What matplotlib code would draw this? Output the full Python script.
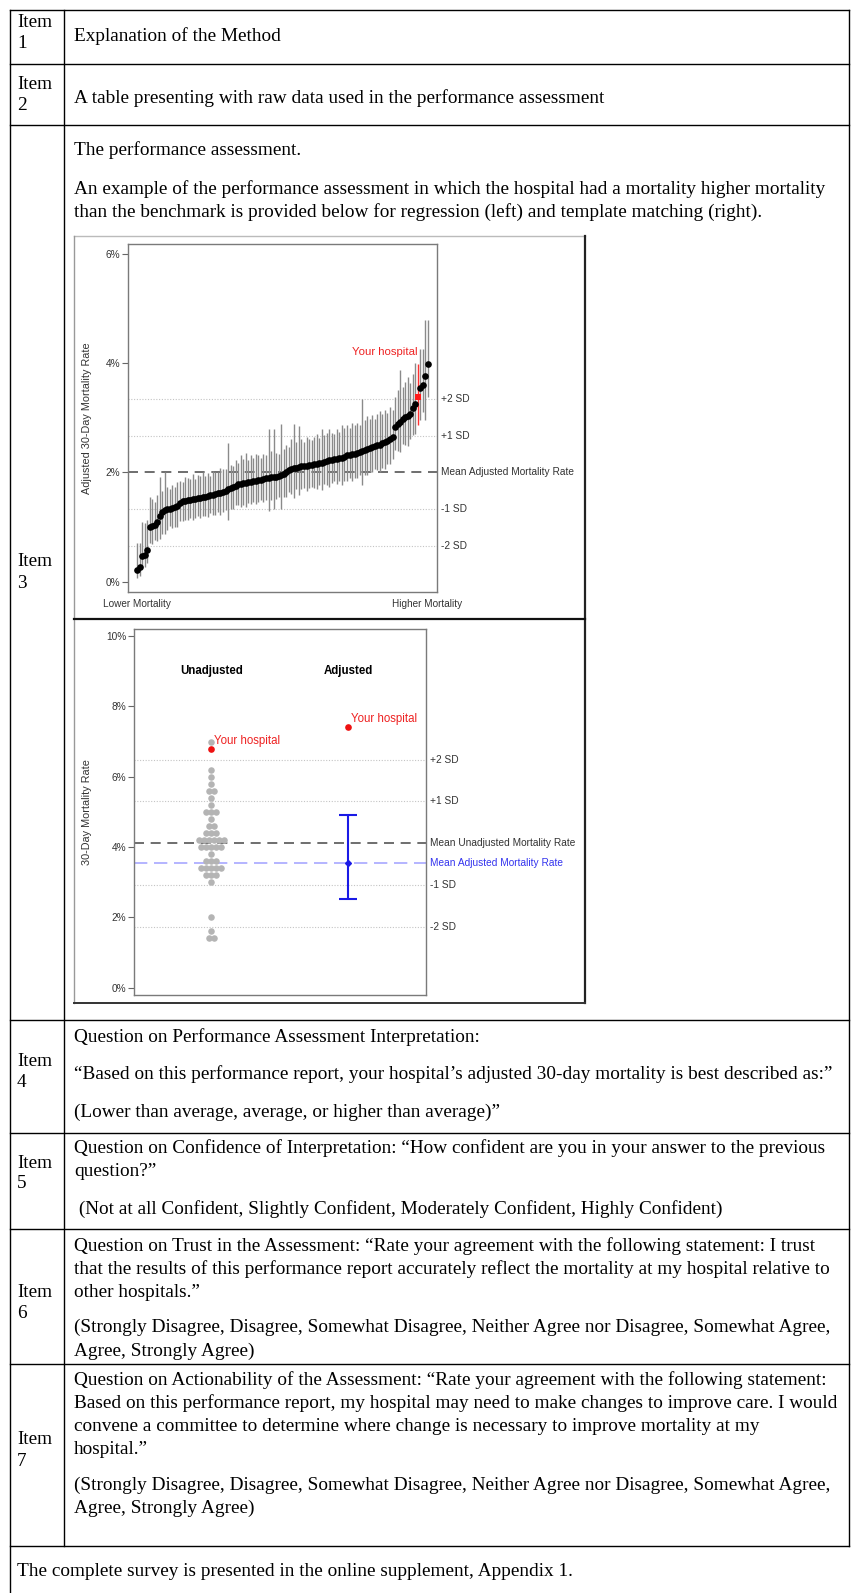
import matplotlib.pyplot as plt
import numpy as np

W, H = 851, 1593

# ---- regression chart (top): hospitals sorted by adjusted 30-day mortality (%)
adj_rate = [0.22, 0.27, 0.48, 0.50, 0.59,
            1.01, 1.02, 1.04, 1.10, 1.20,
            1.28, 1.32, 1.33, 1.34, 1.35,
            1.36, 1.38, 1.45, 1.47, 1.48,
            1.49, 1.50, 1.51, 1.52, 1.53,
            1.54, 1.55, 1.56, 1.57, 1.58,
            1.59, 1.60, 1.62, 1.63, 1.65,
            1.67, 1.69, 1.71, 1.74, 1.76,
            1.78, 1.79, 1.80, 1.81, 1.82,
            1.83, 1.84, 1.84, 1.86, 1.87,
            1.88, 1.89, 1.90, 1.91, 1.91,
            1.92, 1.94, 1.96, 1.97, 2.00,
            2.04, 2.06, 2.08, 2.09, 2.10,
            2.11, 2.11, 2.12, 2.13, 2.14,
            2.15, 2.16, 2.17, 2.18, 2.20,
            2.21, 2.22, 2.23, 2.24, 2.25,
            2.26, 2.27, 2.29, 2.31, 2.32,
            2.33, 2.34, 2.35, 2.37, 2.39,
            2.41, 2.43, 2.45, 2.47, 2.48,
            2.50, 2.51, 2.53, 2.55, 2.57,
            2.61, 2.65, 2.83, 2.88, 2.93,
            2.97, 3.01, 3.04, 3.06, 3.17,
            3.25, 3.38, 3.54, 3.60, 3.76, 3.99]
err_up = [0.50, 0.45, 0.62, 0.58, 0.55,
          0.55, 0.50, 0.42, 0.48, 0.72,
          0.38, 0.68, 0.40, 0.35, 0.42,
          0.38, 0.45, 0.40, 0.36, 0.44,
          0.40, 0.38, 0.46, 0.36, 0.42,
          0.40, 0.45, 0.38, 0.42, 0.36,
          0.44, 0.40, 0.38, 0.45, 0.42,
          0.40, 0.85, 0.42, 0.38, 0.46,
          0.40, 0.52, 0.44, 0.55, 0.40,
          0.48, 0.42, 0.50, 0.45, 0.40,
          0.46, 0.42, 0.90, 0.48, 0.88,
          0.44, 0.40, 0.92, 0.45, 0.50,
          0.42, 0.55, 0.80, 0.46, 0.75,
          0.50, 0.44, 0.52, 0.48, 0.46,
          0.50, 0.55, 0.46, 0.62, 0.48,
          0.52, 0.58, 0.50, 0.46, 0.55,
          0.48, 0.60, 0.52, 0.55, 0.50,
          0.58, 0.52, 0.56, 0.50, 0.95,
          0.55, 0.60, 0.52, 0.58, 0.50,
          0.56, 0.62, 0.54, 0.60, 0.52,
          0.58, 0.50, 0.55, 0.62, 0.95,
          0.60, 0.65, 0.70, 0.58, 0.62,
          0.75, 0.60, 0.72, 0.65, 1.02, 0.80]
err_dn = [0.15, 0.17, 0.20, 0.22, 0.25,
          0.30, 0.32, 0.28, 0.35, 0.42,
          0.40, 0.45, 0.38, 0.32, 0.36,
          0.35, 0.38, 0.33, 0.36, 0.34,
          0.36, 0.34, 0.38, 0.35, 0.33,
          0.37, 0.34, 0.36, 0.38, 0.33,
          0.36, 0.38, 0.35, 0.40, 0.37,
          0.36, 0.55, 0.38, 0.40, 0.36,
          0.38, 0.42, 0.40, 0.45, 0.38,
          0.40, 0.38, 0.42, 0.40, 0.37,
          0.42, 0.40, 0.60, 0.42, 0.58,
          0.40, 0.38, 0.62, 0.42, 0.45,
          0.40, 0.45, 0.55, 0.40, 0.52,
          0.42, 0.40, 0.45, 0.42, 0.40,
          0.44, 0.46, 0.40, 0.50, 0.42,
          0.44, 0.48, 0.42, 0.40, 0.46,
          0.42, 0.50, 0.44, 0.46, 0.42,
          0.48, 0.44, 0.46, 0.42, 0.62,
          0.45, 0.48, 0.44, 0.46, 0.42,
          0.46, 0.50, 0.44, 0.48, 0.42,
          0.46, 0.40, 0.42, 0.48, 0.55,
          0.45, 0.50, 0.55, 0.45, 0.48,
          0.55, 0.51, 0.58, 0.50, 0.80, 0.62]
your_idx = 111
adj_mean = 2.0
adj_sd = [3.35, 2.67, 1.33, 0.66]
sd_labels = ['+2 SD', '+1 SD', '-1 SD', '-2 SD']

# ---- template matching chart (bottom)
unadj_levels = [7.0, 6.2, 6.0, 5.8, 5.6, 5.4, 5.2, 5.0, 4.8, 4.6, 4.4,
                4.2, 4.0, 3.8, 3.6, 3.4, 3.2, 3.0, 2.0, 1.6, 1.4]
unadj_counts = [1, 1, 1, 1, 2, 1, 1, 3, 1, 2, 3,
                6, 5, 1, 3, 5, 3, 1, 1, 1, 2]
your_unadj = 6.8
your_adj = 7.4
adj_ci = [2.52, 3.55, 4.92]   # low, mean, high
mean_unadj = 4.1
mean_adj = 3.55
unadj_sd = [6.48, 5.30, 2.91, 1.72]

# ---- table text
rows = [
    (['Item', '1'], [20, 41], ['Explanation of the Method'], [34]),
    (['Item', '2'], [82, 103], ['A table presenting with raw data used in the performance assessment'], [96]),
    (['Item', '3'], [559, 581], ['The performance assessment.',
                                'An example of the performance assessment in which the hospital had a mortality higher mortality',
                                'than the benchmark is provided below for regression (left) and template matching (right).'],
     [148, 187, 210]),
    (['Item', '4'], [1059, 1080], ['Question on Performance Assessment Interpretation:',
                                  '\u201cBased on this performance report, your hospital\u2019s adjusted 30-day mortality is best described as:\u201d',
                                  '(Lower than average, average, or higher than average)\u201d'],
     [1035, 1072, 1110]),
    (['Item', '5'], [1161, 1181], ['Question on Confidence of Interpretation: \u201cHow confident are you in your answer to the previous',
                                  'question?\u201d',
                                  ' (Not at all Confident, Slightly Confident, Moderately Confident, Highly Confident)'],
     [1146, 1169, 1207]),
    (['Item', '6'], [1290, 1311], ['Question on Trust in the Assessment: \u201cRate your agreement with the following statement: I trust',
                                  'that the results of this performance report accurately reflect the mortality at my hospital relative to',
                                  'other hospitals.\u201d',
                                  '(Strongly Disagree, Disagree, Somewhat Disagree, Neither Agree nor Disagree, Somewhat Agree,',
                                  'Agree, Strongly Agree)'],
     [1244, 1267, 1290, 1325, 1349]),
    (['Item', '7'], [1437, 1459], ['Question on Actionability of the Assessment: \u201cRate your agreement with the following statement:',
                                  'Based on this performance report, my hospital may need to make changes to improve care. I would',
                                  'convene a committee to determine where change is necessary to improve mortality at my',
                                  'hospital.\u201d',
                                  '(Strongly Disagree, Disagree, Somewhat Disagree, Neither Agree nor Disagree, Somewhat Agree,',
                                  'Agree, Strongly Agree)'],
     [1378, 1401, 1424, 1447, 1483, 1506]),
]
footer = 'The complete survey is presented in the online supplement, Appendix 1.'
row_lines = [10, 64, 125, 1020, 1133, 1229, 1364, 1546]

serif = 'Liberation Serif'
sans = 'Liberation Sans'
TFS = 13.9   # table font size
CFS = 7.3    # chart small text
DY = 2.5     # small downward nudge of table text

fig = plt.figure(figsize=(W / 100, H / 100), dpi=100)
bg = fig.add_axes([0, 0, 1, 1])
bg.set_xlim(0, W)
bg.set_ylim(H, 0)
bg.axis('off')

# table grid
for y in row_lines:
    bg.plot([10, 849], [y, y], color='black', lw=1.0)
bg.plot([10, 10], [10, H], color='black', lw=1.0)
bg.plot([849, 849], [10, 1546], color='black', lw=1.0)
bg.plot([64, 64], [10, 1546], color='black', lw=1.0)

for left, ly, right, ry in rows:
    for t, y in zip(left, ly):
        bg.text(17, y + DY, t, family=serif, fontsize=TFS, va='center', ha='left')
    for t, y in zip(right, ry):
        bg.text(74, y + DY, t, family=serif, fontsize=TFS, va='center', ha='left')
bg.text(17, 1569 + DY, footer, family=serif, fontsize=TFS, va='center', ha='left')

# frames of the two pasted charts
bg.plot([74, 585], [235.5, 235.5], color='#bbbbbb', lw=1.0)
bg.plot([74, 74], [235.5, 1003], color='#999999', lw=1.0)
bg.plot([585, 585], [235.5, 1003], color='#222222', lw=1.6)
bg.plot([74, 585], [619, 619], color='#111111', lw=1.6)
bg.plot([74, 585], [1003, 1003], color='#333333', lw=1.4)


def px_axes(l, t, r, b):
    return fig.add_axes([l / W, 1 - b / H, (r - l) / W, (b - t) / H])


def style(ax, ticks):
    for s in ax.spines.values():
        s.set_color('#7a7a7a')
        s.set_linewidth(1.0)
    ax.set_xticks([])
    ax.set_yticks(ticks)
    ax.set_yticklabels(['%d%%' % t for t in ticks])
    ax.tick_params(axis='y', length=4, width=0.8, color='#666666', pad=1.5,
                   labelsize=CFS, labelcolor='#333333')
    for lab in ax.get_yticklabels():
        lab.set_family(sans)


# ---- chart 1
ax1 = px_axes(128, 243.7, 437.3, 592.3)
style(ax1, [0, 2, 4, 6])
ax1.set_ylim(-0.19, 6.18)
ax1.set_xlim(-3.56, 118.7)
x = np.arange(len(adj_rate))
rate = np.array(adj_rate)
lo = rate - np.array(err_dn)
hi = rate + np.array(err_up)
mask = x != your_idx
for y, lab in zip(adj_sd, sd_labels):
    ax1.axhline(y, color='#c4c4c4', lw=0.8, ls=(0, (1, 1.5)), zorder=1)
    ax1.text(1.012, y, lab, transform=ax1.get_yaxis_transform(), va='center',
             ha='left', fontsize=CFS, family=sans, color='#333333', clip_on=False)
ax1.axhline(adj_mean, color='#555555', lw=1.2, ls=(0, (6, 4)), zorder=1)
ax1.text(1.012, adj_mean, 'Mean Adjusted Mortality Rate', transform=ax1.get_yaxis_transform(),
         va='center', ha='left', fontsize=CFS, family=sans, color='#333333', clip_on=False)
ax1.vlines(x[mask], lo[mask], hi[mask], color='#8a8a8a', lw=1.0, zorder=2)
ax1.vlines(x[your_idx], lo[your_idx], hi[your_idx], color='#ff3030', lw=1.0, zorder=2)
ax1.plot(x[mask], rate[mask], 'o', color='black', ms=4.8, mew=0, zorder=3)
ax1.plot(x[your_idx], rate[your_idx], 's', color='#ff1a1a', ms=4.2, mew=0, zorder=4)
ax1.text(x[your_idx], 4.2, 'Your hospital', ha='right', va='center', fontsize=8.2,
         family=sans, color='#ee2222')

bg.text(87, 418, 'Adjusted 30-Day Mortality Rate', rotation=90, ha='center', va='center',
        fontsize=7.8, family=sans, color='#333333')
bg.text(103, 604, 'Lower Mortality', ha='left', va='center', fontsize=7.2, family=sans, color='#333333')
bg.text(392, 604, 'Higher Mortality', ha='left', va='center', fontsize=7.2, family=sans, color='#333333')

# ---- chart 2
ax2 = px_axes(134, 629, 425.7, 995)
style(ax2, [0, 2, 4, 6, 8, 10])
ax2.set_ylim(-0.21, 10.2)
ax2.set_xlim(0.435, 2.567)
for y, lab in zip(unadj_sd, sd_labels):
    ax2.axhline(y, color='#c4c4c4', lw=0.8, ls=(0, (1, 1.5)), zorder=1)
    ax2.text(1.0137, y, lab, transform=ax2.get_yaxis_transform(), va='center',
             ha='left', fontsize=CFS, family=sans, color='#333333', clip_on=False)
ax2.axhline(mean_unadj, color='#555555', lw=1.2, ls=(0, (6, 4)), zorder=1)
ax2.text(1.0137, mean_unadj, 'Mean Unadjusted Mortality Rate', transform=ax2.get_yaxis_transform(),
         va='center', ha='left', fontsize=CFS, family=sans, color='#333333', clip_on=False)
ax2.axhline(mean_adj, color='#a8a8ff', lw=1.2, ls=(0, (8, 4)), zorder=1)
ax2.text(1.0137, mean_adj, 'Mean Adjusted Mortality Rate', transform=ax2.get_yaxis_transform(),
         va='center', ha='left', fontsize=CFS, family=sans, color='#3333ee', clip_on=False)

step = 0.037
for lev, n in zip(unadj_levels, unadj_counts):
    offs = (np.arange(n) - (n - 1) / 2) * step
    ax2.plot(1 + offs, [lev] * n, 'o', color='#b4b4b4', ms=4.7, mew=0, zorder=2)
ax2.plot(1, your_unadj, 'o', color='#ee1111', ms=4.8, mew=0, zorder=4)
ax2.text(1.02, 7.02, 'Your hospital', ha='left', va='center', fontsize=8.3, family=sans, color='#ee2222')
ax2.plot(2, your_adj, 'o', color='#ee1111', ms=4.8, mew=0, zorder=4)
ax2.text(2.02, 7.63, 'Your hospital', ha='left', va='center', fontsize=8.3, family=sans, color='#ee2222')

ax2.errorbar([2], [adj_ci[1]], yerr=[[adj_ci[1] - adj_ci[0]], [adj_ci[2] - adj_ci[1]]],
             fmt='D', color='#1a1ae6', ms=3, capsize=6.5, capthick=1.5, elinewidth=1.5, zorder=3)
ax2.text(1, 9.0, 'Unadjusted', ha='center', va='center', fontsize=8.3, fontweight='bold', family=sans)
ax2.text(2, 9.0, 'Adjusted', ha='center', va='center', fontsize=8.3, fontweight='bold', family=sans)

bg.text(87, 812, '30-Day Mortality Rate', rotation=90, ha='center', va='center',
        fontsize=7.8, family=sans, color='#333333')

fig.savefig('out.png', dpi=100)
